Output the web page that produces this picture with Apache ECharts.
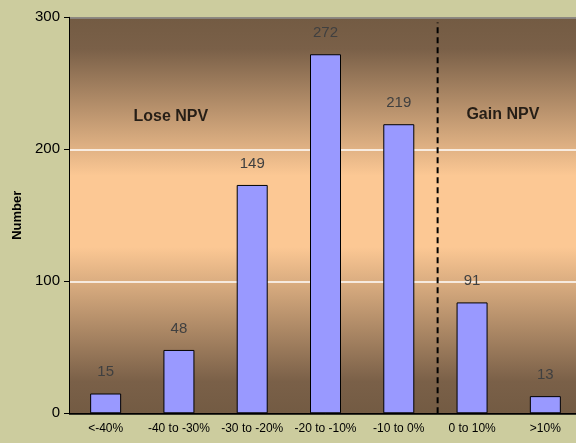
<!DOCTYPE html>
<html><head><meta charset="utf-8">
<script src="https://cdn.jsdelivr.net/npm/echarts@6/dist/echarts.min.js"></script>
<style>html,body{margin:0;padding:0;background:#cccc9e;overflow:hidden;}#c{width:582px;height:443px;}</style>
</head><body><div id="c"></div>
<script>
var categories = ['<-40%', '-40 to -30%', '-30 to -20%', '-20 to -10%', '-10 to 0%', '0 to 10%', '>10%'];
var barValues = [15, 48, 173, 272, 219, 84, 13];
var labelTexts = ['15', '48', '149', '272', '219', '91', '13'];
var yTicks = [0, 100, 200, 300];
var dividerAt = 5.03;
var annotations = [{text: 'Lose NPV', x: 1.39, y: 225}, {text: 'Gain NPV', x: 5.92, y: 226}];

var chart = echarts.init(document.getElementById('c'));
chart.setOption({
  backgroundColor: '#cccc9e',
  animation: false,
  grid: {
    left: 69, top: 17.3, right: 0, bottom: 29.7, show: true, borderWidth: 0,
    backgroundColor: new echarts.graphic.LinearGradient(0, 0, 0, 1, [
      {offset: 0, color: '#735b43'},
      {offset: 0.08, color: '#7a6048'},
      {offset: 0.4, color: '#fcc894'},
      {offset: 0.58, color: '#fcc894'},
      {offset: 0.92, color: '#7a6048'},
      {offset: 1, color: '#735b43'}
    ])
  },
  xAxis: [{
    type: 'category', data: categories,
    axisLine: {lineStyle: {color: '#000', width: 1}},
    axisTick: {length: 5, lineStyle: {color: '#000'}},
    axisLabel: {color: '#000', fontFamily: 'Liberation Sans, Arial', fontSize: 12, margin: 9, interval: 0},
    splitLine: {show: false}
  }, {
    type: 'value', min: 0, max: 7, show: false
  }],
  yAxis: {
    type: 'value', min: 0, max: 300, interval: 100,
    name: 'Number', nameLocation: 'middle', nameGap: 41,
    nameTextStyle: {color: '#000', fontWeight: 'bold', fontSize: 13, fontFamily: 'Liberation Sans, Arial'},
    axisLine: {show: true, lineStyle: {color: '#000'}},
    axisTick: {show: true, length: 5, lineStyle: {color: '#000'}},
    axisLabel: {color: '#000', fontSize: 15, fontFamily: 'Liberation Sans, Arial', margin: 9},
    splitLine: {show: true, lineStyle: {color: ['#000', '#ffffff', '#ffffff', '#8f8f8f'], width: 1.5}}
  },
  series: [{
    type: 'bar', data: barValues, barWidth: 31,
    itemStyle: {color: '#9999ff', borderColor: '#000', borderWidth: 1},
    label: {
      show: true, position: 'top', distance: 14,
      color: '#404040', fontSize: 15, fontFamily: 'Liberation Sans, Arial',
      formatter: function (p) { return labelTexts[p.dataIndex]; }
    }
  }, {
    type: 'line', xAxisIndex: 1,
    data: [[dividerAt, 0], [dividerAt, 296]],
    symbol: 'none',
    lineStyle: {color: '#000', width: 2, type: [6, 4]}
  }, {
    type: 'scatter', xAxisIndex: 1, symbolSize: 0,
    data: annotations.map(function (a) { return {value: [a.x, a.y], name: a.text}; }),
    label: {
      show: true, position: 'inside', formatter: '{b}',
      color: '#000', fontWeight: 'bold', fontSize: 16, fontFamily: 'Liberation Sans, Arial'
    }
  }]
});
</script></body></html>
